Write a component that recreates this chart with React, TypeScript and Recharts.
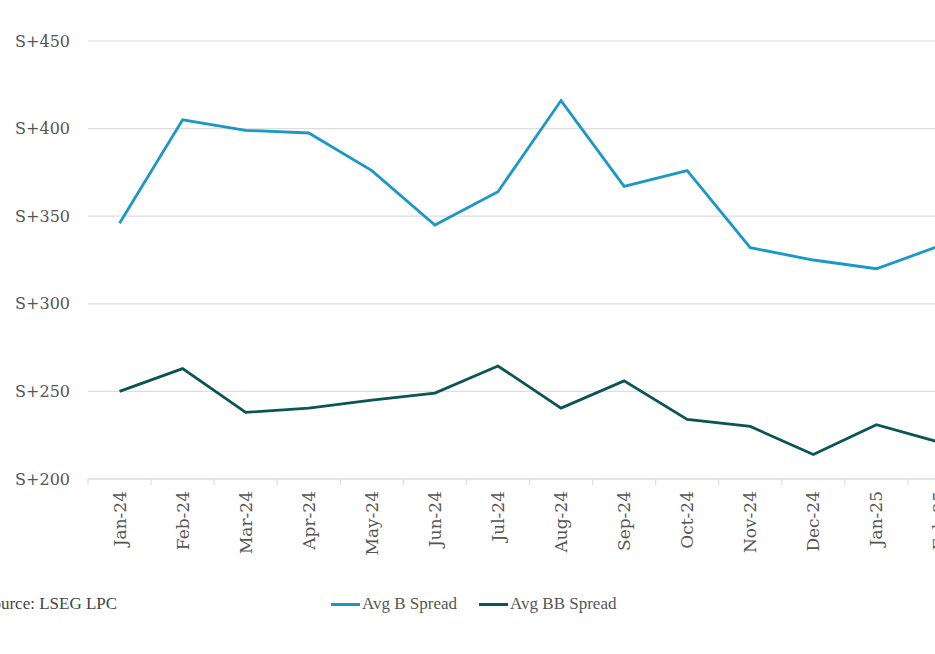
import React from 'react';
import { LineChart, Line, XAxis, YAxis, CartesianGrid, Legend } from 'recharts';

const months = [
  'Jan-24', 'Feb-24', 'Mar-24', 'Apr-24', 'May-24', 'Jun-24', 'Jul-24',
  'Aug-24', 'Sep-24', 'Oct-24', 'Nov-24', 'Dec-24', 'Jan-25', 'Feb-25',
];
const avgB = [346, 405, 399, 397.5, 376, 345, 364, 416, 367, 376, 332, 325, 320, 333];
const avgBB = [250, 263, 238, 240.5, 245, 249, 264.5, 240.5, 256, 234, 230, 214, 231, 221];
const yTicks = [200, 250, 300, 350, 400, 450];

const data = months.map((m, i) => ({ month: m, b: avgB[i], bb: avgBB[i] }));

const BLUE = '#1a98c6';
const TEAL = '#0b5458';
const GRID = '#dedede';

function MonthTick(props: any) {
  const { x, y, payload } = props;
  const half = payload && payload.offset ? payload.offset : 31.5;
  return (
    <g>
      <line x1={x - half} y1={y} x2={x - half} y2={y + 6} stroke={GRID} strokeWidth={1.2} />
      <text
        x={0}
        y={0}
        transform={`translate(${x + 6},${y + 12}) rotate(-90)`}
        textAnchor="end"
        fill="#555"
        fontSize={17}
        fontFamily="DejaVu Serif"
      >
        {payload.value}
      </text>
    </g>
  );
}

function SpreadLegend(props: any) {
  const items = props.payload || [];
  return (
    <div style={{ display: 'flex', alignItems: 'center', fontFamily: 'Liberation Serif', fontSize: 17, color: '#555' }}>
      {items.map((it: any) => (
        <div key={it.value} style={{ display: 'flex', alignItems: 'center', marginRight: 22 }}>
          <span style={{ display: 'inline-block', width: 29, height: 3, background: it.color, marginRight: 2 }} />
          <span>{it.value}</span>
        </div>
      ))}
    </div>
  );
}

export default function App() {
  return (
    <div style={{ position: 'absolute', left: 0, top: 0, width: 935, height: 654, overflow: 'hidden', background: '#fff' }}>
      <LineChart width={1000} height={654} data={data} margin={{ top: 41, right: 29, left: 10, bottom: 0 }}>
        <CartesianGrid vertical={false} stroke={GRID} strokeWidth={1.2} />
        <XAxis
          dataKey="month"
          scale="band"
          interval={0}
          height={151}
          tickSize={0}
          tickMargin={0}
          tickLine={false}
          axisLine={{ stroke: GRID, strokeWidth: 1.2 }}
          tick={<MonthTick />}
        />
        <YAxis
          domain={[200, 450]}
          ticks={yTicks}
          width={78}
          axisLine={false}
          tickLine={false}
          tickSize={0}
          tickMargin={18}
          tickFormatter={(v: number) => `S+${v}`}
          tick={{ fill: '#555', fontSize: 16, fontFamily: 'DejaVu Serif' }}
        />
        <Legend
          verticalAlign="bottom"
          align="left"
          content={<SpreadLegend />}
          wrapperStyle={{ left: 331, top: 594, height: 24, width: 330 }}
        />
        <Line type="linear" dataKey="b" name="Avg B Spread" stroke={BLUE} strokeWidth={2.8} dot={false} isAnimationActive={false} />
        <Line type="linear" dataKey="bb" name="Avg BB Spread" stroke={TEAL} strokeWidth={2.8} dot={false} isAnimationActive={false} />
      </LineChart>
      <div style={{ position: 'absolute', left: -17, top: 594, fontFamily: 'Liberation Serif', fontSize: 17, color: '#444', whiteSpace: 'nowrap' }}>
        Source: LSEG LPC
      </div>
    </div>
  );
}
